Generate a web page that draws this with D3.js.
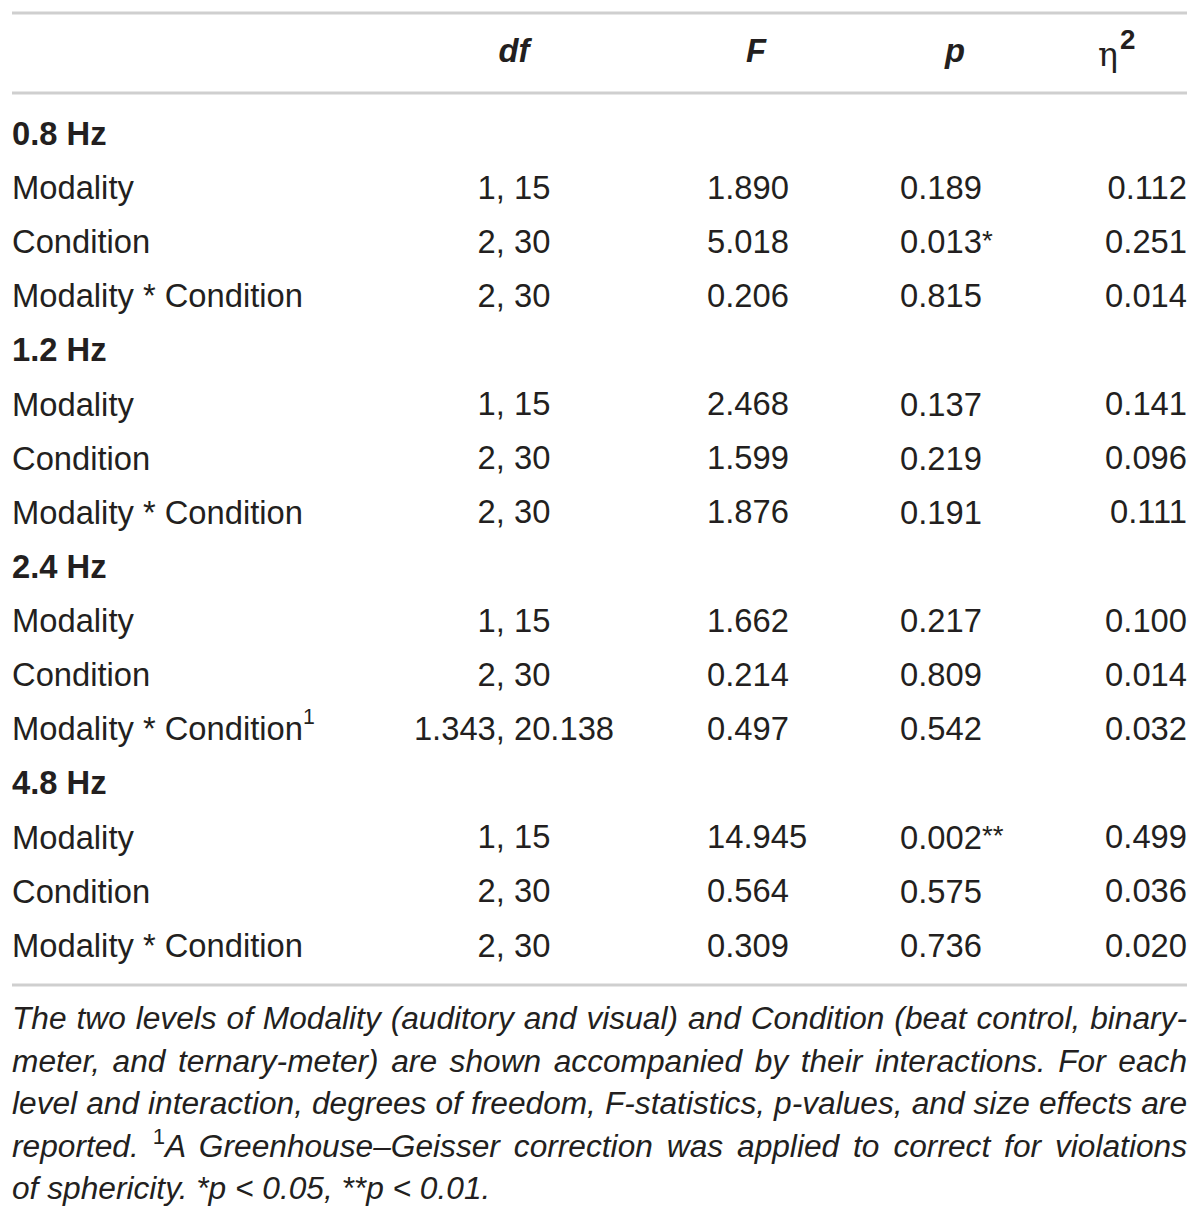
<!DOCTYPE html>
<html>
<head>
<meta charset="utf-8">
<script src="https://cdn.jsdelivr.net/npm/d3@7"></script>
<style>
html,body{margin:0;padding:0;background:#fff;}
svg{display:block;}
text{font-family:"Helvetica Neue","Liberation Sans",Arial,sans-serif;}
</style>
</head>
<body>
<svg id="chart" width="1200" height="1219"></svg>
<script>
// ---- data ----
const columns = ["df", "F", "p", "η"];
const groups = ["0.8 Hz", "1.2 Hz", "2.4 Hz", "4.8 Hz"];
const effects = ["Modality", "Condition", "Modality * Condition"];
const effectNotes = [
  ["", "", ""],
  ["", "", ""],
  ["", "", "1"],
  ["", "", ""]
];
const dfValues = [
  ["1, 15", "2, 30", "2, 30"],
  ["1, 15", "2, 30", "2, 30"],
  ["1, 15", "2, 30", "1.343, 20.138"],
  ["1, 15", "2, 30", "2, 30"]
];
const fValues = [
  [1.890, 5.018, 0.206],
  [2.468, 1.599, 1.876],
  [1.662, 0.214, 0.497],
  [14.945, 0.564, 0.309]
];
const pValues = [
  [0.189, 0.013, 0.815],
  [0.137, 0.219, 0.191],
  [0.217, 0.809, 0.542],
  [0.002, 0.575, 0.736]
];
const pStars = [
  ["", "*", ""],
  ["", "", ""],
  ["", "", ""],
  ["**", "", ""]
];
const etaValues = [
  [0.112, 0.251, 0.014],
  [0.141, 0.096, 0.111],
  [0.100, 0.014, 0.032],
  [0.499, 0.036, 0.020]
];
const footnoteLines = [
  [{t:"The two levels of Modality (auditory and visual) and Condition (beat control, binary-"}],
  [{t:"meter, and ternary-meter) are shown accompanied by their interactions. For each"}],
  [{t:"level and interaction, degrees of freedom, F-statistics, p-values, and size effects are"}],
  [{t:"reported. "},{t:"1",sup:true},{t:"A Greenhouse–Geisser correction was applied to correct for violations"}],
  [{t:"of sphericity. *p < 0.05, **p < 0.01."}]
];

// ---- build rows ----
const rows = [];
groups.forEach((g, gi) => {
  rows.push({type:"group", label:g});
  effects.forEach((e, ei) => {
    rows.push({type:"effect", label:e, note:effectNotes[gi][ei],
      df:dfValues[gi][ei], F:fValues[gi][ei].toFixed(3),
      p:pValues[gi][ei].toFixed(3), star:pStars[gi][ei],
      eta:etaValues[gi][ei].toFixed(3)});
  });
});

const svg = d3.select("#chart");
const ink = "#231f20";
const ruleColor = "#cfcfcf";

const x = d3.scaleLinear().domain([0, 1]).range([12, 1187]);
const y = d3.scalePoint().domain(d3.range(rows.length)).range([133, 945]);

function measure(str, attrs) {
  const t = svg.append("text").attr("font-size", 100);
  Object.entries(attrs || {}).forEach(([k, v]) => t.attr(k, v));
  t.text(str);
  const w = t.node().getComputedTextLength();
  t.remove();
  return w;
}
// font sizes calibrated to reference text widths
const fs = 100 * 291 / measure("Modality * Condition");
const target = x(1) - x(0);
const widest = d3.max(footnoteLines.slice(0, 4), segs =>
  measure(segs.map(s => s.t).join(""), {"font-style": "italic"}));
const fnSize = Math.min(
  100 * 511 / measure(footnoteLines[4].map(s => s.t).join(""), {"font-style": "italic"}),
  100 * (target - 2) / widest);

// column positions
const colX = {df: 514, F: 707, p: 900, eta: 1187};
const headX = {df: 514, F: 756, p: 955, eta: 1098};

// rules
[13, 93, 985].forEach(yy => {
  svg.append("line").attr("x1", x(0)).attr("x2", x(1)).attr("y1", yy).attr("y2", yy)
    .attr("stroke", ruleColor).attr("stroke-width", 3);
});

// header
const hy = 50;
const hdr = svg.append("g").attr("fill", ink).attr("font-size", fs).attr("dominant-baseline", "central");
[["df", 0], ["F", 1], ["p", 2]].forEach(([k, i]) => {
  hdr.append("text").attr("x", headX[k]).attr("y", hy).attr("text-anchor", "middle")
    .attr("font-weight", "bold").attr("font-style", "italic").text(columns[i]);
});
const eta = hdr.append("text").attr("x", headX.eta).attr("y", hy + 4);
eta.append("tspan").attr("font-family", "'DejaVu Serif', serif").attr("font-size", fs * 1.02).text(columns[3]);
eta.append("tspan").attr("font-weight", "bold").attr("font-size", fs * 0.85).attr("dx", 2).attr("dy", -fs * 0.45).text("2");

// body
const body = svg.append("g").attr("fill", ink).attr("font-size", fs);
rows.forEach((r, i) => {
  const g = body.append("g").attr("transform", `translate(0,${y(i)})`);
  if (r.type === "group") {
    g.append("text").attr("x", x(0)).attr("dominant-baseline", "central")
      .attr("font-weight", "bold").text(r.label);
  } else {
    const lab = g.append("text").attr("x", x(0)).attr("dominant-baseline", "central");
    lab.append("tspan").text(r.label);
    if (r.note) lab.append("tspan").attr("font-size", fs * 0.65).attr("dy", -fs * 0.36).text(r.note);
    g.append("text").attr("x", colX.df).attr("text-anchor", "middle").attr("dominant-baseline", "central").text(r.df);
    g.append("text").attr("x", colX.F).attr("dominant-baseline", "central").text(r.F);
    const pt = g.append("text").attr("x", colX.p).attr("dominant-baseline", "central");
    pt.append("tspan").text(r.p);
    if (r.star) pt.append("tspan").attr("font-size", fs * 0.85).attr("dy", -fs * 0.05).text(r.star);
    g.append("text").attr("x", colX.eta).attr("text-anchor", "end").attr("dominant-baseline", "central").text(r.eta);
  }
});

// footnote (justified lines except the last)
const fy = d3.scalePoint().domain(d3.range(footnoteLines.length)).range([1018, 1188]);
const fn = svg.append("g").attr("fill", ink).attr("font-size", fnSize);
footnoteLines.forEach((segs, i) => {
  const t = fn.append("text").attr("x", x(0)).attr("y", fy(i)).attr("dominant-baseline", "central")
    .attr("font-style", "italic");
  segs.forEach((s, si) => {
    const ts = t.append("tspan").text(s.t);
    if (s.sup) {
      ts.attr("font-size", fnSize * 0.7).attr("dy", -fnSize * 0.3).attr("font-style", "normal");
    } else if (si > 0 && segs[si - 1].sup) {
      ts.attr("dy", fnSize * 0.3);
    }
  });
  if (i < footnoteLines.length - 1) {
    const natural = t.node().getComputedTextLength();
    const spaces = (segs.map(s => s.t).join("").match(/ /g) || []).length;
    if (natural < target && spaces > 0) {
      t.attr("word-spacing", (target - natural) / spaces);
    }
  }
});
</script>
</body>
</html>
